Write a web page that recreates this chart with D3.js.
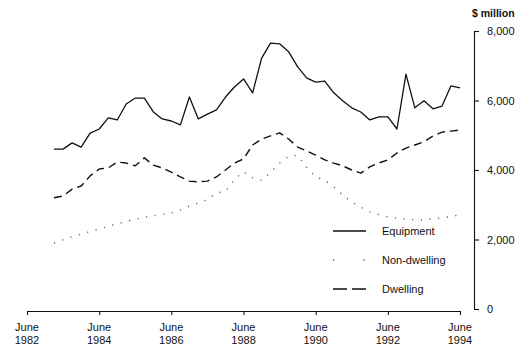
<!DOCTYPE html>
<html>
<head>
<meta charset="utf-8">
<script src="https://cdn.jsdelivr.net/npm/d3@7"></script>
<style>
  html, body { margin: 0; padding: 0; background: #fff; }
  svg { display: block; font-family: "Liberation Sans", Arial, Helvetica, sans-serif; }
</style>
</head>
<body>
<svg id="chart" width="522" height="351"></svg>
<script>
// Quarterly private new capital expenditure, $ million
const quarters = [
  "1983-03","1983-06","1983-09","1983-12",
  "1984-03","1984-06","1984-09","1984-12",
  "1985-03","1985-06","1985-09","1985-12",
  "1986-03","1986-06","1986-09","1986-12",
  "1987-03","1987-06","1987-09","1987-12",
  "1988-03","1988-06","1988-09","1988-12",
  "1989-03","1989-06","1989-09","1989-12",
  "1990-03","1990-06","1990-09","1990-12",
  "1991-03","1991-06","1991-09","1991-12",
  "1992-03","1992-06","1992-09","1992-12",
  "1993-03","1993-06","1993-09","1993-12",
  "1994-03","1994-06"
];

const equipment = [
  4600, 4600, 4780, 4660, 5060, 5180, 5500, 5440, 5900, 6070, 6070, 5670,
  5470, 5410, 5300, 6100, 5470, 5610, 5730, 6100, 6390, 6620, 6220, 7220,
  7650, 7630, 7400, 6970, 6650, 6530, 6560, 6220, 5990, 5790, 5670, 5440,
  5530, 5530, 5180, 6760, 5790, 5990, 5760, 5840, 6420, 6360
];

const nonDwelling = [
  1900, 1990, 2080, 2150, 2230, 2300, 2380, 2450, 2520, 2580, 2640, 2680,
  2720, 2760, 2850, 2960, 3050, 3150, 3340, 3380, 3730, 3950, 3780, 3700,
  3930, 4200, 4390, 4420, 4080, 3800, 3700, 3520, 3280, 3080, 2930, 2800,
  2720, 2650, 2620, 2590, 2570, 2560, 2600, 2620, 2660, 2710
];

const dwelling = [
  3200, 3250, 3450, 3540, 3830, 4030, 4060, 4230, 4200, 4120, 4350, 4140,
  4060, 3940, 3800, 3680, 3660, 3680, 3800, 4000, 4200, 4320, 4720, 4890,
  4980, 5070, 4890, 4660, 4550, 4430, 4290, 4200, 4120, 4000, 3910, 4090,
  4200, 4290, 4490, 4630, 4720, 4810, 4980, 5090, 5120, 5150
];

const tickYears = ["1982", "1984", "1986", "1988", "1990", "1992", "1994"];
const yTicks = [0, 2000, 4000, 6000, 8000];
const unitLabel = "$ million";

const seriesNames = ["Equipment", "Non-dwelling", "Dwelling"];

const parseQ = d3.timeParse("%Y-%m");
const dates = quarters.map(parseQ);

const svg = d3.select("#chart");

const x = d3.scaleTime()
  .domain([parseQ("1982-06"), parseQ("1994-06")])
  .range([27, 460]);

const y = d3.scaleLinear()
  .domain([0, 8000])
  .range([309, 31]);

// Bottom axis: June of each even year, ticks hanging below the line
const xAxis = d3.axisBottom(x)
  .tickValues(tickYears.map(t => parseQ(t + "-06")))
  .tickSize(4)
  .tickSizeOuter(0)
  .tickFormat("");

const gx = svg.append("g")
  .attr("transform", "translate(0,311)")
  .call(xAxis);
gx.select(".domain").attr("stroke", "#111").attr("stroke-width", 1.1);
gx.selectAll(".tick line").attr("stroke", "#111").attr("stroke-width", 1.1);

const xLabels = svg.append("g")
  .attr("font-size", 11)
  .attr("fill", "#111")
  .attr("text-anchor", "middle");
tickYears.forEach(t => {
  const tx = x(parseQ(t + "-06"));
  const txt = xLabels.append("text").attr("x", tx);
  txt.append("tspan").attr("x", tx).attr("y", 331).text("June");
  txt.append("tspan").attr("x", tx).attr("y", 344).text(t);
});

// Right axis
const yAxis = d3.axisRight(y)
  .tickValues(yTicks)
  .tickSize(5)
  .tickSizeOuter(0)
  .tickPadding(8)
  .tickFormat(d3.format(","));

const gy = svg.append("g")
  .attr("transform", "translate(474,0)")
  .call(yAxis);
gy.select(".domain").attr("stroke", "#111").attr("stroke-width", 1.1);
gy.selectAll(".tick line").attr("stroke", "#111").attr("stroke-width", 1.1);
gy.selectAll(".tick text")
  .attr("font-size", 11)
  .attr("fill", "#111")
  .attr("font-family", "Liberation Sans, Arial, sans-serif");

svg.append("text")
  .attr("x", 472)
  .attr("y", 17)
  .attr("font-size", 10.5)
  .attr("font-weight", "bold")
  .attr("fill", "#111")
  .text(unitLabel);

// Series lines
const line = d3.line()
  .x((d, i) => x(dates[i]))
  .y(d => y(d));

const styles = {
  "Equipment":    { data: equipment,   stroke: "#111", width: 1.3, dash: null },
  "Non-dwelling": { data: nonDwelling, stroke: "#666", width: 1.4, dash: "1.2 7.5" },
  "Dwelling":     { data: dwelling,    stroke: "#111", width: 1.4, dash: "8 5" }
};

seriesNames.forEach(name => {
  const s = styles[name];
  svg.append("path")
    .datum(s.data)
    .attr("fill", "none")
    .attr("stroke", s.stroke)
    .attr("stroke-width", s.width)
    .attr("stroke-linejoin", "round")
    .attr("stroke-dasharray", s.dash)
    .attr("d", line);
});

// Legend
const legendDash = {
  "Equipment": null,
  "Non-dwelling": "1.3 29",
  "Dwelling": "14 5"
};
const legend = svg.append("g");
seriesNames.forEach((name, i) => {
  const ly = 231 + i * 29;
  const s = styles[name];
  legend.append("line")
    .attr("x1", 333).attr("x2", 366)
    .attr("y1", ly).attr("y2", ly)
    .attr("stroke", s.stroke)
    .attr("stroke-width", s.width)
    .attr("stroke-dasharray", legendDash[name]);
  legend.append("text")
    .attr("x", 382)
    .attr("y", ly + 4)
    .attr("font-size", 11)
    .attr("fill", "#111")
    .text(name);
});
</script>
</body>
</html>
